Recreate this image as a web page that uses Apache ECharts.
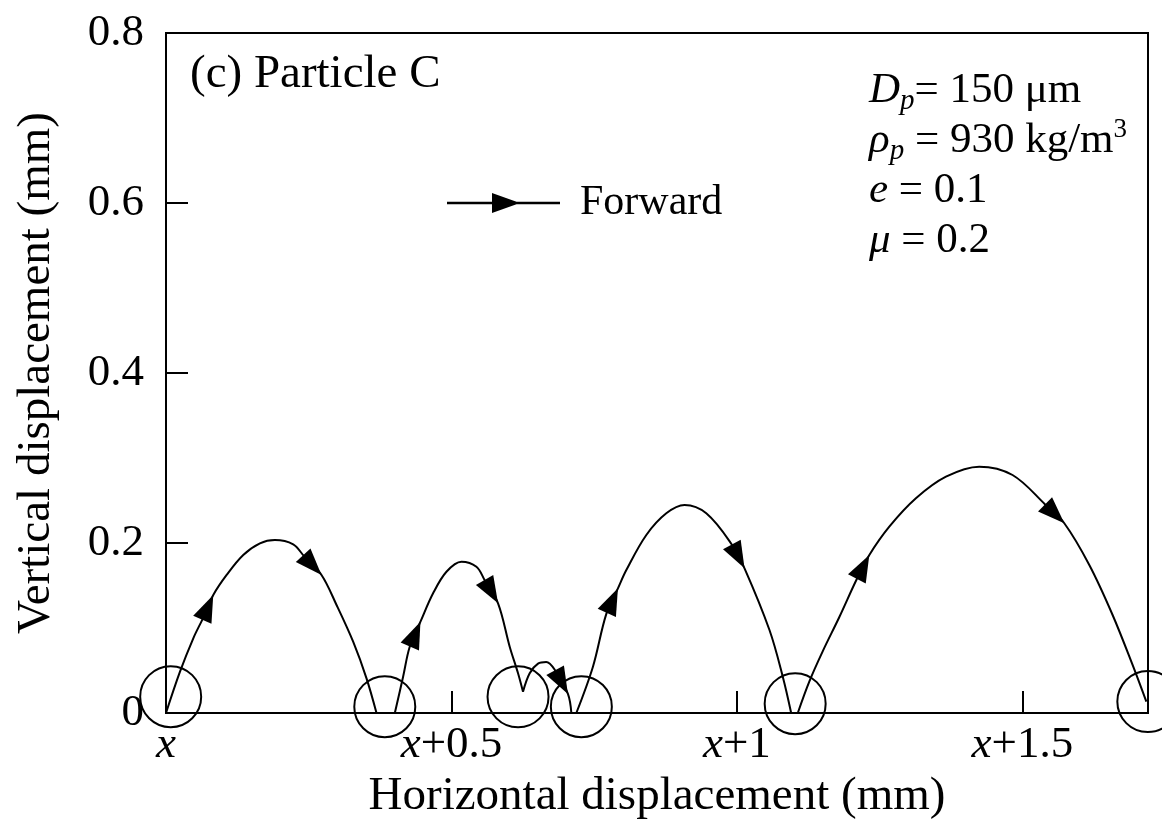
<!DOCTYPE html>
<html>
<head>
<meta charset="utf-8">
<script src="https://cdn.jsdelivr.net/npm/echarts@6/dist/echarts.min.js"></script>
<style>
html,body{margin:0;padding:0;background:#fff;}
#chart{width:1162px;height:833px;}
</style>
</head>
<body>
<div id="chart"></div>
<script>
// ---- data (mm) ----
const xTicks = [0, 0.5, 1, 1.5];
const yTicks = [0, 0.2, 0.4, 0.6, 0.8];

const arc1 = [[0,0],[0.0245,0.0486],[0.0478,0.0879],[0.0647,0.1114],[0.0828,0.1388],[0.1062,0.1624],[0.1353,0.1859],[0.1645,0.1996],[0.1907,0.2035],[0.2228,0.1984],[0.2418,0.1845],[0.2724,0.1624],[0.2987,0.1271],[0.3278,0.0839],[0.3512,0.0408],[0.3687,0]];
const arc2 = [[0.4008,0],[0.4153,0.0427],[0.4269,0.078],[0.4457,0.1074],[0.4678,0.1408],[0.4912,0.1662],[0.5175,0.178],[0.5437,0.1721],[0.558,0.1565],[0.5816,0.129],[0.602,0.078],[0.6166,0.0467],[0.6253,0.025]];
const arc3 = [[0.6253,0.025],[0.637,0.0467],[0.6516,0.058],[0.666,0.060],[0.6822,0.0496],[0.704,0.0224],[0.710,0]];
const arc4 = [[0.7187,0],[0.7478,0.0545],[0.7711,0.1163],[0.7916,0.1467],[0.8063,0.1682],[0.8413,0.2094],[0.8763,0.2349],[0.9083,0.2447],[0.9463,0.2349],[0.9913,0.198],[1.0133,0.1702],[1.057,0.0976],[1.0803,0.0427],[1.095,0]];
const arc5 = [[1.1066,0],[1.1269,0.0372],[1.1502,0.0725],[1.1794,0.1129],[1.21,0.1576],[1.2319,0.1859],[1.2669,0.2192],[1.3135,0.2526],[1.3661,0.278],[1.4244,0.2898],[1.4827,0.28],[1.5403,0.2451],[1.5734,0.2232],[1.6172,0.1741],[1.658,0.1153],[1.693,0.0565],[1.7171,0.0133]];
const arcs = [arc1, arc2, arc3, arc4, arc5];

// arrow heads: [arc index, point index of arrow tip]
const arrowAt = [[0,4],[0,11],[1,3],[1,9],[2,5],[3,3],[3,10],[4,5],[4,12]];

// impact circles (centres)
const circles = [[0.0082,0.0192],[0.3832,0.0074],[0.6166,0.019],[0.7275,0.0075],[1.102,0.011],[1.7197,0.0135]];

// ---- chart ----
const FONT = "'Liberation Serif','Times New Roman',serif";
const chart = echarts.init(document.getElementById('chart'), null, {renderer:'canvas'});

const arrowData = arrowAt.map(([a,i]) => [arcs[a][i][0], arcs[a][i][1], arcs[a][i-1][0], arcs[a][i-1][1]]);

const series = arcs.map(arc => ({
  type: 'line',
  name: 'Forward',
  data: arc,
  smooth: 0.35,
  showSymbol: false,
  symbol: 'none',
  lineStyle: {color:'#000', width: 2},
  itemStyle: {color:'#000'},
  animation: false,
  z: 2
}));

series.push({
  type: 'custom',
  name: 'arrows',
  data: arrowData,
  encode: {x: 0, y: 1},
  clip: false,
  z: 3,
  renderItem: function (params, api) {
    const tip = api.coord([api.value(0), api.value(1)]);
    const prev = api.coord([api.value(2), api.value(3)]);
    let dx = tip[0] - prev[0], dy = tip[1] - prev[1];
    const len = Math.hypot(dx, dy) || 1;
    dx /= len; dy /= len;
    const L = 27, W = 10;
    const bx = tip[0] - dx * L, by = tip[1] - dy * L;
    return {
      type: 'polygon',
      shape: {points: [[tip[0], tip[1]], [bx - dy * W, by + dx * W], [bx + dy * W, by - dx * W]]},
      style: {fill: '#000', stroke: null}
    };
  }
});

series.push({
  type: 'scatter',
  name: 'impacts',
  data: circles,
  symbol: 'circle',
  symbolSize: 61,
  clip: false,
  itemStyle: {color: 'rgba(0,0,0,0)', borderColor: '#000', borderWidth: 2, opacity: 1},
  emphasis: {disabled: true},
  z: 4,
  animation: false
});

const option = {
  animation: false,
  backgroundColor: '#fff',
  color: ['#000'],
  title: [
    {
      text: '(c) Particle C',
      left: 190, top: 47, padding: 0,
      textStyle: {fontFamily: FONT, fontSize: 47, fontWeight: 'normal', color: '#000', lineHeight: 56}
    },
    {
      text: '{i|D}{s|p}{n|= 150 μm}\n{i|ρ}{s|p}{n| = 930 kg/m}{u|3}\n{i|e}{n| = 0.1}\n{i|μ}{n| = 0.2}',
      left: 869, top: 66, padding: 0,
      textStyle: {
        fontFamily: FONT, fontSize: 43, fontWeight: 'normal', color: '#000', lineHeight: 50,
        rich: {
          n: {fontFamily: FONT, fontSize: 43, color: '#000', lineHeight: 50},
          i: {fontFamily: FONT, fontSize: 43, fontStyle: 'italic', color: '#000', lineHeight: 50},
          s: {fontFamily: FONT, fontSize: 29, fontStyle: 'italic', color: '#000', lineHeight: 24, verticalAlign: 'bottom'},
          u: {fontFamily: FONT, fontSize: 27, color: '#000', lineHeight: 43, verticalAlign: 'top'}
        }
      }
    }
  ],
  legend: {
    data: ['Forward'],
    left: 447, top: 182, padding: 0,
    itemWidth: 113, itemHeight: 20,
    icon: 'path://M0,8.8L113,8.8L113,11.2L0,11.2Z M45,0L73,10L45,20Z',
    itemStyle: {color: '#000', borderWidth: 0},
    textStyle: {fontFamily: FONT, fontSize: 42, color: '#000', padding: [0,0,0,15]},
    selectedMode: false
  },
  grid: {
    left: 166, right: 14, top: 33, bottom: 120,
    show: true, borderColor: '#000', borderWidth: 2, backgroundColor: 'transparent'
  },
  xAxis: {
    type: 'value', min: 0, max: 1.72, interval: 0.5,
    name: 'Horizontal displacement (mm)',
    nameLocation: 'middle', nameGap: 52,
    nameTextStyle: {fontFamily: FONT, fontSize: 47, color: '#000'},
    axisLine: {show: true, lineStyle: {color: '#000', width: 2}},
    axisTick: {show: true, inside: true, length: 22, lineStyle: {color: '#000', width: 2}, customValues: xTicks},
    axisLabel: {
      show: true, margin: 10, customValues: xTicks,
      fontFamily: FONT, fontSize: 45, color: '#000',
      formatter: function (v) {
        if (xTicks.indexOf(+v) < 0) return '';
        return v === 0 ? '{i|x}' : '{i|x}+' + v;
      },
      rich: {i: {fontFamily: FONT, fontSize: 45, fontStyle: 'italic', color: '#000'}}
    },
    splitLine: {show: false}
  },
  yAxis: {
    type: 'value', min: 0, max: 0.8, interval: 0.2,
    name: 'Vertical displacement (mm)',
    nameLocation: 'middle', nameGap: 106,
    nameTextStyle: {fontFamily: FONT, fontSize: 47, color: '#000'},
    axisLine: {show: true, lineStyle: {color: '#000', width: 2}},
    axisTick: {show: true, inside: true, length: 22, lineStyle: {color: '#000', width: 2}},
    axisLabel: {
      show: true, margin: 22,
      fontFamily: FONT, fontSize: 45, color: '#000',
      formatter: function (v) { return v === 0 ? '0' : v.toFixed(1); }
    },
    splitLine: {show: false}
  },
  series: series
};
chart.setOption(option);
</script>
</body>
</html>
